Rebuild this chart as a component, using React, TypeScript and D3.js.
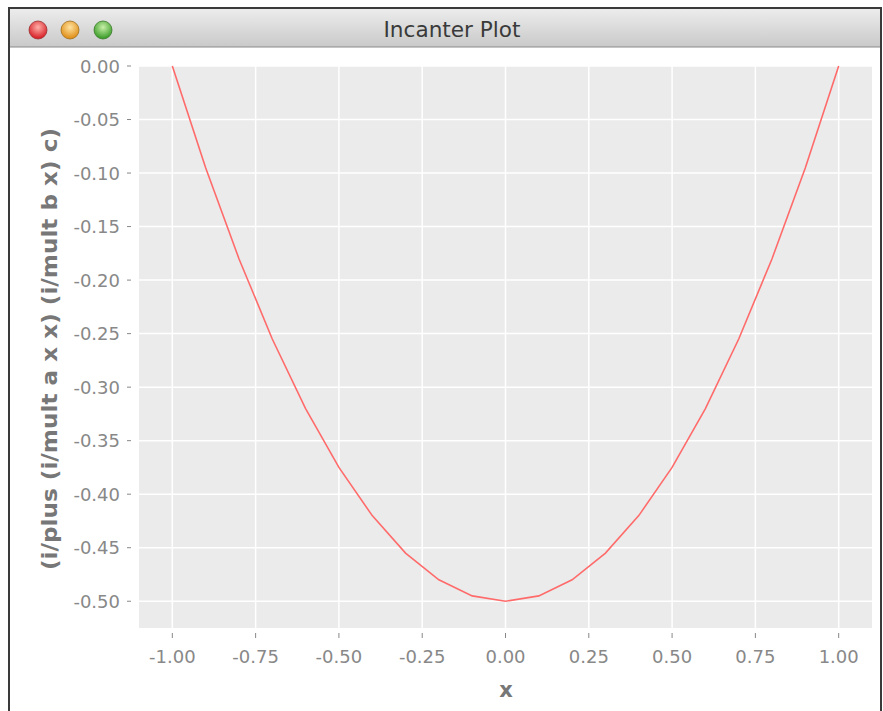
import React from "react";
import * as d3 from "d3";

const xValues = [-1.0, -0.9, -0.8, -0.7, -0.6, -0.5, -0.4, -0.3, -0.2, -0.1, 0.0, 0.1, 0.2, 0.3, 0.4, 0.5, 0.6, 0.7, 0.8, 0.9, 1.0];
const yValues = [0.0, -0.095, -0.18, -0.255, -0.32, -0.375, -0.42, -0.455, -0.48, -0.495, -0.5, -0.495, -0.48, -0.455, -0.42, -0.375, -0.32, -0.255, -0.18, -0.095, 0.0];
const xTicks = [-1.0, -0.75, -0.5, -0.25, 0.0, 0.25, 0.5, 0.75, 1.0];
const yTicks = [0.0, -0.05, -0.1, -0.15, -0.2, -0.25, -0.3, -0.35, -0.4, -0.45, -0.5];
const title = "Incanter Plot";
const xLabel = "x";
const yLabel = "(i/plus (i/mult a x x) (i/mult b x) c)";

const fmt = (v: number) => d3.format(".2f")(v).replace("\u2212", "-");

export default function App() {
  const W = 883, H = 711;
  const left = 139, right = 872, top = 66, bottom = 628;
  const x = d3.scaleLinear().domain([-1.1, 1.1]).range([left, right]);
  const y = d3.scaleLinear().domain([-0.525, 0]).range([bottom, top]);
  const line = d3.line<number>().x((_, i) => x(xValues[i])).y((d) => y(d));
  const font = "'DejaVu Sans', Verdana, sans-serif";
  return (
    <svg width={W} height={H} style={{ position: "absolute", left: 0, top: 0 }}>
      <defs>
        <linearGradient id="tb" x1="0" y1="0" x2="0" y2="1">
          <stop offset="0" stopColor="#ececec" />
          <stop offset="1" stopColor="#c9c9c9" />
        </linearGradient>
        <radialGradient id="red" cx="0.5" cy="0.35" r="0.6">
          <stop offset="0" stopColor="#ffb0a8" />
          <stop offset="1" stopColor="#d8232a" />
        </radialGradient>
        <radialGradient id="yel" cx="0.5" cy="0.35" r="0.6">
          <stop offset="0" stopColor="#ffe3a0" />
          <stop offset="1" stopColor="#e0901a" />
        </radialGradient>
        <radialGradient id="grn" cx="0.5" cy="0.35" r="0.6">
          <stop offset="0" stopColor="#c8f0a8" />
          <stop offset="1" stopColor="#3e9e2c" />
        </radialGradient>
      </defs>
      <rect x={0} y={0} width={W} height={H} fill="#ffffff" />
      {/* window frame */}
      <rect x={9} y={8} width={872} height={H} fill="#ffffff" stroke="#3a3a3a" strokeWidth={2} />
      <rect x={10} y={9} width={870} height={38} fill="url(#tb)" />
      <line x1={10} x2={880} y1={47} y2={47} stroke="#8a8a8a" strokeWidth={1} />
      <circle cx={38} cy={30} r={9} fill="url(#red)" stroke="#9a3030" strokeWidth={0.8} />
      <circle cx={70} cy={30} r={9} fill="url(#yel)" stroke="#a0701a" strokeWidth={0.8} />
      <circle cx={103} cy={30} r={9} fill="url(#grn)" stroke="#3a7a2a" strokeWidth={0.8} />
      <text x={452} y={37} textAnchor="middle" fontFamily={font} fontSize={22} fill="#3a3a3a" textLength={137} lengthAdjust="spacingAndGlyphs">{title}</text>

      {/* plot */}
      <rect x={left} y={top} width={right - left} height={bottom - top} fill="#ebebeb" />
      {xTicks.map((t) => (
        <line key={"gx" + t} x1={x(t)} x2={x(t)} y1={top} y2={bottom} stroke="#ffffff" strokeWidth={1.5} />
      ))}
      {yTicks.map((t) => (
        <line key={"gy" + t} x1={left} x2={right} y1={y(t)} y2={y(t)} stroke="#ffffff" strokeWidth={1.5} />
      ))}
      <path d={line(yValues) || ""} fill="none" stroke="#ff6b6b" strokeWidth={1.6} />

      {xTicks.map((t) => (
        <g key={"tx" + t}>
          <line x1={x(t)} x2={x(t)} y1={633} y2={638} stroke="#888" strokeWidth={1} />
          <text x={x(t)} y={663} textAnchor="middle" fontFamily={font} fontSize={18} fill="#888">{fmt(t)}</text>
        </g>
      ))}
      {yTicks.map((t) => (
        <g key={"ty" + t}>
          <line x1={127} x2={131} y1={y(t)} y2={y(t)} stroke="#888" strokeWidth={1} />
          <text x={120} y={y(t) + 6.5} textAnchor="end" fontFamily={font} fontSize={18} fill="#888">{fmt(t)}</text>
        </g>
      ))}
      <text x={506} y={697} textAnchor="middle" fontFamily={font} fontSize={21} fontWeight="bold" fill="#777">{xLabel}</text>
      <text transform={`translate(57, 349) rotate(-90)`} textAnchor="middle" fontFamily={font} fontSize={22} fontWeight="bold" fill="#777" textLength={442} lengthAdjust="spacingAndGlyphs">{yLabel}</text>
    </svg>
  );
}
